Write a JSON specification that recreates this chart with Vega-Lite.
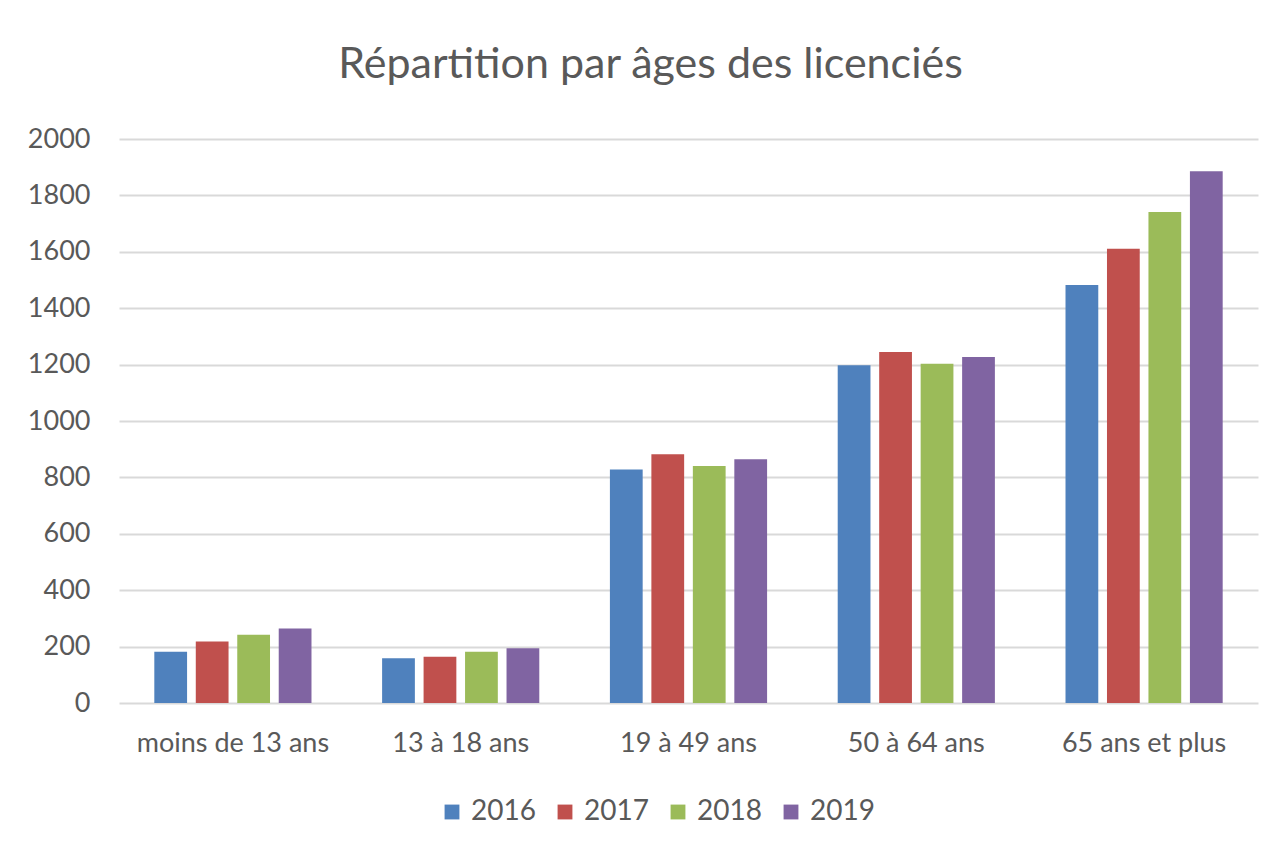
{
  "$schema": "https://vega.github.io/schema/vega-lite/v6.json",
  "width": 1139,
  "height": 564,
  "autosize": {"type": "none"},
  "padding": {"left": 119, "top": 139, "right": 25, "bottom": 154},
  "background": "white",
  "config": {"view": {"stroke": null}, "font": "Lato"},
  "title": {
    "text": "Répartition par âges des licenciés",
    "anchor": "middle",
    "frame": "group",
    "dx": -38,
    "offset": 4,
    "baseline": "alphabetic",
    "font": "Lato",
    "fontSize": 43,
    "fontWeight": "normal",
    "color": "#595959"
  },
  "data": {
    "values": [
      {"age": "moins de 13 ans", "annee": "2016", "licencies": 182},
      {"age": "moins de 13 ans", "annee": "2017", "licencies": 218},
      {"age": "moins de 13 ans", "annee": "2018", "licencies": 242},
      {"age": "moins de 13 ans", "annee": "2019", "licencies": 264},
      {"age": "13 à 18 ans", "annee": "2016", "licencies": 159},
      {"age": "13 à 18 ans", "annee": "2017", "licencies": 164},
      {"age": "13 à 18 ans", "annee": "2018", "licencies": 182},
      {"age": "13 à 18 ans", "annee": "2019", "licencies": 194},
      {"age": "19 à 49 ans", "annee": "2016", "licencies": 828},
      {"age": "19 à 49 ans", "annee": "2017", "licencies": 882},
      {"age": "19 à 49 ans", "annee": "2018", "licencies": 840},
      {"age": "19 à 49 ans", "annee": "2019", "licencies": 864},
      {"age": "50 à 64 ans", "annee": "2016", "licencies": 1198},
      {"age": "50 à 64 ans", "annee": "2017", "licencies": 1245},
      {"age": "50 à 64 ans", "annee": "2018", "licencies": 1203},
      {"age": "50 à 64 ans", "annee": "2019", "licencies": 1227},
      {"age": "65 ans et plus", "annee": "2016", "licencies": 1482},
      {"age": "65 ans et plus", "annee": "2017", "licencies": 1611},
      {"age": "65 ans et plus", "annee": "2018", "licencies": 1741},
      {"age": "65 ans et plus", "annee": "2019", "licencies": 1886}
    ]
  },
  "mark": {"type": "bar"},
  "encoding": {
    "x": {
      "field": "age",
      "type": "nominal",
      "sort": null,
      "scale": {"paddingInner": 0.31, "paddingOuter": 0.155},
      "axis": {
        "title": null,
        "labelAngle": 0,
        "ticks": false,
        "domain": false,
        "grid": false,
        "labelLimit": 0,
        "labelPadding": 27,
        "labelFont": "Lato",
        "labelFontSize": 27,
        "labelColor": "#595959"
      }
    },
    "xOffset": {
      "field": "annee",
      "type": "nominal",
      "scale": {"paddingInner": 0.21, "paddingOuter": 0}
    },
    "y": {
      "field": "licencies",
      "type": "quantitative",
      "scale": {"domain": [0, 2000], "nice": false},
      "axis": {
        "title": null,
        "format": "d",
        "values": [0, 200, 400, 600, 800, 1000, 1200, 1400, 1600, 1800, 2000],
        "domain": false,
        "ticks": false,
        "grid": true,
        "gridColor": "#D9D9D9",
        "gridWidth": 2,
        "labelPadding": 29,
        "labelFont": "Lato",
        "labelFontSize": 27,
        "labelColor": "#595959"
      }
    },
    "color": {
      "field": "annee",
      "type": "nominal",
      "scale": {
        "domain": ["2016", "2017", "2018", "2019"],
        "range": ["#4F81BD", "#C0504D", "#9BBB59", "#8064A2"]
      },
      "legend": {
        "orient": "none",
        "legendX": 319,
        "legendY": 659,
        "direction": "horizontal",
        "title": null,
        "padding": 0,
        "symbolType": "square",
        "symbolSize": 220,
        "symbolStrokeWidth": 0,
        "labelOffset": 5,
        "columnPadding": 15,
        "labelFont": "Lato",
        "labelFontSize": 28,
        "labelColor": "#595959"
      }
    }
  }
}
